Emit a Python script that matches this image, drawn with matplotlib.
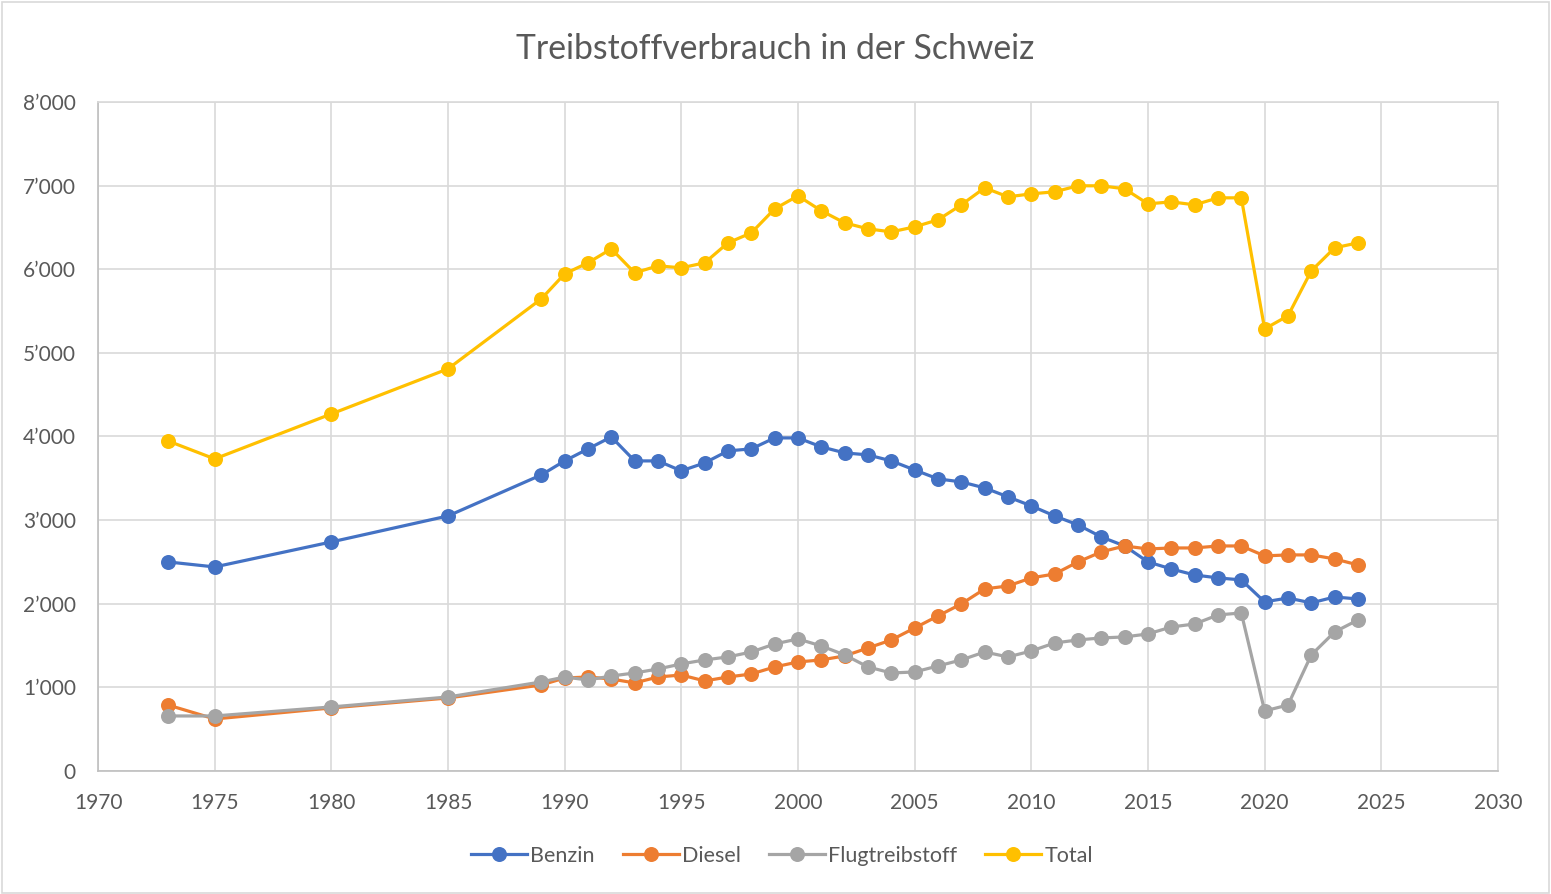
import matplotlib
matplotlib.use("Agg")
import matplotlib.pyplot as plt
from matplotlib.ticker import FuncFormatter, MultipleLocator
from matplotlib.patches import Rectangle

years = [1973, 1975, 1980, 1985, 1989] + list(range(1990, 2025))

benzin = [2500, 2440, 2739, 3050, 3541, 3708, 3852, 3995, 3708, 3708,
          3589, 3684, 3828, 3852, 3983, 3983, 3876, 3804, 3780, 3708,
          3600, 3493, 3457, 3385, 3278, 3170, 3050, 2943, 2799, 2691,
          2500, 2416, 2344, 2309, 2285, 2022, 2069, 2010, 2081, 2057]

diesel = [789, 622, 754, 873, 1029, 1112, 1124, 1100, 1053, 1124,
          1148, 1077, 1124, 1160, 1244, 1304, 1328, 1376, 1471, 1567,
          1710, 1854, 1998, 2177, 2213, 2309, 2356, 2500, 2620, 2691,
          2655, 2667, 2667, 2691, 2691, 2572, 2584, 2584, 2536, 2464]

flug = [658, 658, 766, 885, 1065, 1124, 1088, 1136, 1172, 1220,
        1280, 1328, 1364, 1423, 1519, 1579, 1495, 1388, 1244, 1172,
        1184, 1256, 1328, 1423, 1364, 1435, 1531, 1567, 1591, 1603,
        1639, 1722, 1758, 1866, 1890, 718, 789, 1388, 1663, 1806]

total = [3947, 3732, 4270, 4809, 5646, 5945, 6077, 6244, 5957, 6041,
         6017, 6077, 6316, 6435, 6722, 6878, 6699, 6555, 6483, 6447,
         6507, 6591, 6770, 6974, 6866, 6902, 6926, 6998, 6998, 6962,
         6782, 6806, 6770, 6854, 6854, 5287, 5443, 5981, 6256, 6316]

series = [("Benzin", benzin, "#4472C4"),
          ("Diesel", diesel, "#ED7D31"),
          ("Flugtreibstoff", flug, "#A5A5A5"),
          ("Total", total, "#FFC000")]

plt.rcParams['font.family'] = ['Lato', 'DejaVu Sans']

fig = plt.figure(figsize=(15.51, 8.94), dpi=100)
ax = fig.add_axes([0.0632, 0.1376, 0.9026, 0.7483])

for name, vals, col in series:
    ax.plot(years, vals, color=col, lw=2.3, marker='o', markersize=10.8,
            markeredgewidth=0, label=name)

ax.set_xlim(1970, 2030)
ax.set_ylim(0, 8000)
ax.xaxis.set_major_locator(MultipleLocator(5))
ax.yaxis.set_major_locator(MultipleLocator(1000))
ax.yaxis.set_major_formatter(FuncFormatter(
    lambda v, p: "0" if v == 0 else f"{int(v)//1000}\u2019{int(v)%1000:03d}"))
ax.grid(True, color="#D9D9D9", lw=1.2)
ax.set_axisbelow(True)
for s in ax.spines.values():
    s.set_color("#D9D9D9")
    s.set_linewidth(1.2)
ax.spines['left'].set_color("#BFBFBF")
ax.spines['bottom'].set_color("#BFBFBF")
ax.tick_params(length=0, labelsize=15, colors="#595959")
ax.tick_params(axis='x', pad=16)
ax.tick_params(axis='y', pad=16)

fig.text(0.5, 0.945, "Treibstoffverbrauch in der Schweiz", ha='center', va='center',
         fontsize=24.3, color="#595959")

ax.legend(loc='center', bbox_to_anchor=(0.4885, -0.127), ncol=4, frameon=False,
          fontsize=15.5, labelcolor="#595959", handlelength=2.6, columnspacing=1.3,
          handletextpad=0.15)

fig.patches.append(Rectangle((0.001, 0.001), 0.998, 0.997, transform=fig.transFigure,
                             fill=False, edgecolor="#D9D9D9", lw=1.2))

fig.savefig("out.png", dpi=100, facecolor="white")
